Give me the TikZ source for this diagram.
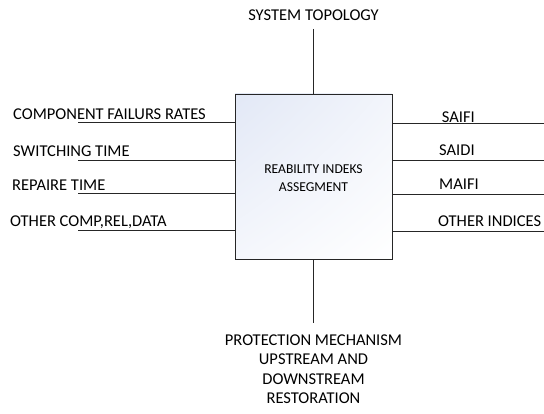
\documentclass[tikz,border=0pt]{standalone}
\usepackage{fontspec}
\setmainfont{Carlito}
\usepackage{tikz}
\usetikzlibrary{positioning, calc, shadings}
\definecolor{boxtint}{RGB}{226, 232, 246}

\begin{document}
\begin{tikzpicture}[x=1pt, y=1pt,
  inlabel/.style={anchor=base west, inner sep=0pt, font=\fontsize{16.5}{19.5}\selectfont},
  outlabel/.style={anchor=base west, inner sep=0pt, font=\fontsize{16.5}{19.5}\selectfont},
  feed/.style={line width=0.9pt, black!85},
  corebox/.style={draw=black!85, line width=0.9pt, minimum width=157pt, minimum height=165pt, inner sep=0pt,
    upper left=boxtint, upper right=boxtint!45, lower left=boxtint!35, lower right=white}]
  \useasboundingbox (0,0) rectangle (544,413);

  % Assessment box
  \node[corebox] (core) at (313.5, 236.5) {};
  \node[align=center, inner sep=0pt, font=\fontsize{13.6}{18}\selectfont] (coretext) at (313.5, 235) {REABILITY INDEKS\\ASSEGMENT};

  % Top and bottom
  \node[anchor=base, inner sep=0pt, font=\fontsize{16.5}{19.5}\selectfont] (topo) at (313.5, 392.8) {SYSTEM TOPOLOGY};
  \coordinate (topend) at (313.5, 384);
  \draw[feed] (topend) -- (core.north);
  \node[anchor=north, align=center, inner sep=0pt, font=\fontsize{16.5}{19.5}\selectfont] (prot) at (313.5, 78.5)
    {PROTECTION MECHANISM\\UPSTREAM AND\\DOWNSTREAM\\RESTORATION};
  \coordinate (botend) at (313.5, 90);
  \draw[feed] (core.south) -- (botend);

  % Inputs
  \coordinate (in1) at (78, 290.3);
  \coordinate (in2) at (78, 252.7);
  \coordinate (in3) at (78, 219.7);
  \coordinate (in4) at (78, 182.3);
  \node[inlabel] (fail) at (13, 293.3) {COMPONENT FAILURS RATES};
  \node[inlabel] (switch) at (13, 256.7) {SWITCHING TIME};
  \node[inlabel] (repair) at (12, 222.7) {REPAIRE TIME};
  \node[inlabel] (other) at (10, 186.3) {OTHER COMP,REL,DATA};
  \foreach \i in {1,...,4}
    \draw[feed] (in\i) -- (in\i -| core.west);

  % Outputs
  \coordinate (out1) at (544, 289.7);
  \coordinate (out2) at (544, 252.3);
  \coordinate (out3) at (544, 219);
  \coordinate (out4) at (544, 181.3);
  \node[outlabel] (saifi) at (441.7, 290) {SAIFI};
  \node[outlabel] (saidi) at (439, 257.3) {SAIDI};
  \node[outlabel] (maifi) at (439, 223) {MAIFI};
  \node[outlabel] (indices) at (438, 186.3) {OTHER INDICES};
  \foreach \i in {1,...,4}
    \draw[feed] (out\i -| core.east) -- (out\i);
\end{tikzpicture}
\end{document}
